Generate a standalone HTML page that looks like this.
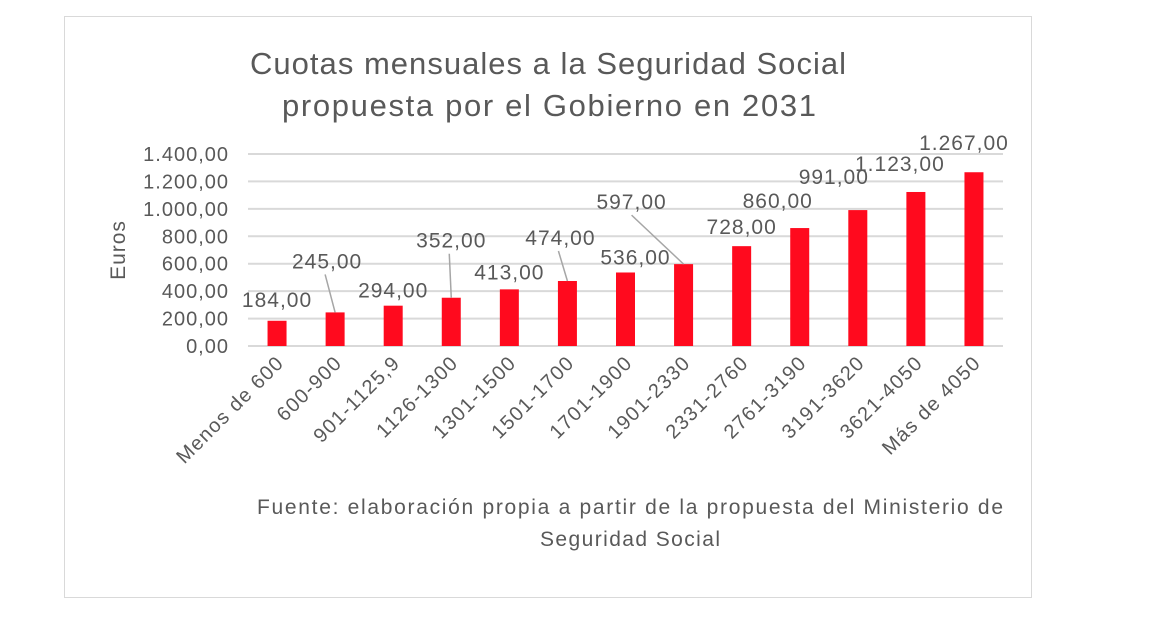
<!DOCTYPE html>
<html><head><meta charset="utf-8"><style>
body{margin:0;background:#fff;}
svg text{font-family:"Liberation Sans","DejaVu Sans",sans-serif;fill:#595959;}
</style></head><body>
<svg width="1166" height="620" xmlns="http://www.w3.org/2000/svg">
<rect x="64.5" y="16.5" width="967" height="581" fill="#fff" stroke="#d9d9d9"/>
<text x="250" y="74" font-size="31" textLength="596" lengthAdjust="spacing">Cuotas mensuales a la Seguridad Social</text>
<text x="282" y="116" font-size="31" textLength="534" lengthAdjust="spacing">propuesta por el Gobierno en 2031</text>
<text transform="translate(125,250) rotate(-90)" font-size="21" text-anchor="middle" letter-spacing="1">Euros</text>
<g id="grid"></g><g id="bars"></g><g id="labels"></g><g id="xlabels"></g>
<text x="257" y="514" font-size="21" textLength="746" lengthAdjust="spacing">Fuente: elaboración propia a partir de la propuesta del Ministerio de</text>
<text x="540" y="546" font-size="21" textLength="180" lengthAdjust="spacing">Seguridad Social</text>
</svg>
<script>
const categories=["Menos de 600","600-900","901-1125,9","1126-1300","1301-1500","1501-1700","1701-1900","1901-2330","2331-2760","2761-3190","3191-3620","3621-4050","Más de 4050"];
const values=[184,245,294,352,413,474,536,597,728,860,991,1123,1267];
const valueLabels=["184,00","245,00","294,00","352,00","413,00","474,00","536,00","597,00","728,00","860,00","991,00","1.123,00","1.267,00"];
const yTicks=[0,200,400,600,800,1000,1200,1400];
const yTickLabels=["0,00","200,00","400,00","600,00","800,00","1.000,00","1.200,00","1.400,00"];
// label offset (dx,dy) from bar top center
const labelDx=[0,-8,0,0,0,-7,10,-52,0,-22,-24,-16,-10];
const labelDy=[-14,-44,-8,-50,-10,-36,-8,-55,-12,-20,-26,-21,-22];
const leader=[0,1,0,1,0,1,0,1,0,0,0,0,0];
const NS="http://www.w3.org/2000/svg";
const x0=248,x1=1003,y0=346,yTop=154,yMax=1400;
const band=(x1-x0)/categories.length;
const X=i=>x0+band*(i+0.5);
const Y=v=>y0-(v/yMax)*(y0-yTop);
function mk(t,a,p){const e=document.createElementNS(NS,t);for(const k in a)e.setAttribute(k,a[k]);p.appendChild(e);return e;}
const grid=document.getElementById('grid');
yTicks.forEach((t,i)=>{
 const l=mk('line',{x1:x0,x2:x1,y1:Y(t),y2:Y(t),stroke:'#d9d9d9','stroke-width':2},grid);
 
 
 const tx=mk('text',{x:229,y:Y(t)+7,'font-size':20,'text-anchor':'end','letter-spacing':1},grid);
 tx.textContent=yTickLabels[i];
 
 
});
const bars=document.getElementById('bars'),labs=document.getElementById('labels'),xl=document.getElementById('xlabels');
const bw=19;
values.forEach((v,i)=>{
 const r=mk('rect',{x:X(i)-bw/2,y:Y(v),width:bw,height:y0-Y(v),fill:'#ff0a1e'},bars);
 
 
 const lx=X(i)+labelDx[i],ly=Y(v)+labelDy[i];
 if(leader[i]){
  const ln=mk('line',{x1:lx+(labelDx[i]<-30?0:-2),y1:ly+6,x2:X(i),y2:Y(v),stroke:'#a6a6a6','stroke-width':1.5},labs);
  
  
 }
 const t=mk('text',{x:lx,y:ly,'font-size':21,'text-anchor':'middle','letter-spacing':1},labs);
 t.textContent=valueLabels[i];
 
 
 const c=mk('text',{transform:`translate(${X(i)+8},${y0+18}) rotate(-45)`,'font-size':20,'text-anchor':'end','letter-spacing':1.3},xl);
 c.textContent=categories[i];
 
 
});
</script>
</body></html>
